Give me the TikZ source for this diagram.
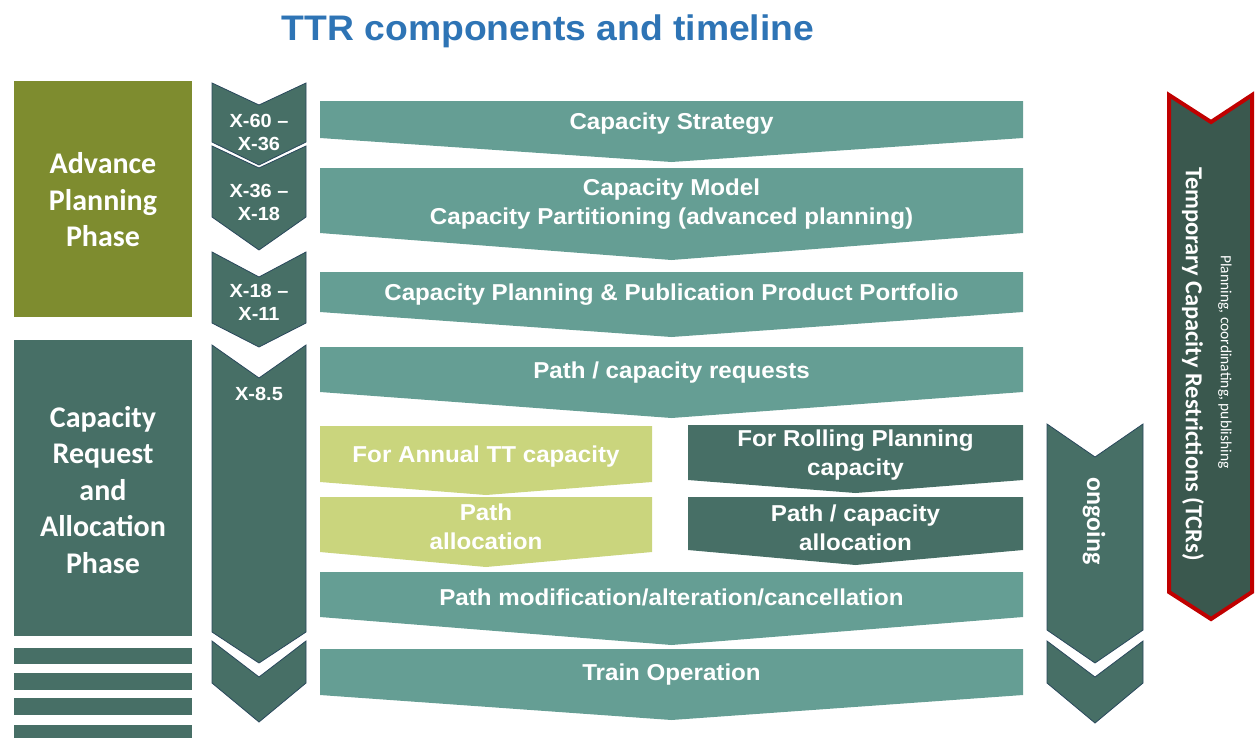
\documentclass[tikz,border=0pt]{standalone}
\usepackage{fontspec}
\setmainfont{Liberation Sans}
\newfontfamily\barfont[FakeStretch=1.05,Ligatures=TeX]{Liberation Sans}
\newfontfamily\calfont{Carlito}
\definecolor{titleblue}{RGB}{46,116,181}
\definecolor{phaseolive}{RGB}{126,140,47}
\definecolor{darkteal}{RGB}{71,111,102}
\definecolor{chevline}{RGB}{42,72,92}
\definecolor{barteal}{RGB}{101,158,148}
\definecolor{barlime}{RGB}{202,213,125}
\definecolor{tcrfill}{RGB}{58,88,78}
\definecolor{tcrred}{RGB}{192,0,0}
\begin{document}
\begin{tikzpicture}[x=1pt,y=-1pt,
    titletext/.style={text=titleblue,font=\barfont\bfseries\fontsize{35.5}{40}\selectfont},
    phasetext/.style={text=white,align=center,font=\calfont\bfseries\fontsize{30}{36.5}\selectfont},
    chevron/.style={fill=darkteal,draw=chevline,line width=0.8pt,line join=miter},
    chevtext/.style={text=white,align=center,font=\barfont\bfseries\fontsize{19}{23}\selectfont},
    bartext/.style={text=white,align=center,yshift=-2.5pt,font=\barfont\bfseries\fontsize{23}{29}\selectfont},
    sidetext/.style={text=white,rotate=-90,font=\calfont\bfseries\fontsize{26}{30}\selectfont}]
    \useasboundingbox (0,0) rectangle (1255,737);

    % Title
    \node[titletext] (title) at (548,31) {TTR components and timeline};

    % Phase boxes on the left
    \fill[phaseolive] (14,81) rectangle (192,317);
    \node[phasetext] (advance) at (103,200) {Advance\\Planning\\Phase};
    \fill[darkteal] (14,340) rectangle (192,636);
    \node[phasetext] (request) at (103,490) {Capacity\\Request\\and\\Allocation\\Phase};
    \foreach \yt/\yb in {648/664, 673/690, 698/715, 725/745}
        \fill[darkteal] (14,\yt) rectangle (192,\yb);

    % Timeline chevrons
    \filldraw[chevron] (212,83) -- (259,105) -- (306,83) -- (306,142) -- (259,165) -- (212,142) -- cycle;
    \filldraw[chevron] (212,146) -- (259,168) -- (306,146) -- (306,217) -- (259,250) -- (212,217) -- cycle;
    \filldraw[chevron] (212,252) -- (259,277) -- (306,252) -- (306,323) -- (259,347) -- (212,323) -- cycle;
    \filldraw[chevron] (212,345) -- (259,378) -- (306,345) -- (306,632) -- (259,663) -- (212,632) -- cycle;
    \filldraw[chevron] (212,641) -- (259,677) -- (306,641) -- (306,683) -- (259,722) -- (212,683) -- cycle;
    \node[chevtext] (xsixty) at (259,132) {X-60 –\\X-36};
    \node[chevtext] (xthirtysix) at (259,202) {X-36 –\\X-18};
    \node[chevtext] (xeighteen) at (259,302) {X-18 –\\X-11};
    \node[chevtext] (xeight) at (259,394) {X-8.5};

    % Process bars
    \fill[barteal] (320,101) -- (1023,101) -- (1023,138) -- (671.5,162) -- (320,138) -- cycle;
    \node[bartext] (strategy) at (671.5,121) {Capacity Strategy};
    \fill[barteal] (320,168) -- (1023,168) -- (1023,233) -- (671.5,260) -- (320,233) -- cycle;
    \node[bartext] (model) at (671.5,201.5) {Capacity Model\\Capacity Partitioning (advanced planning)};
    \fill[barteal] (320,272) -- (1023,272) -- (1023,312) -- (671.5,337) -- (320,312) -- cycle;
    \node[bartext] (portfolio) at (671.5,292) {Capacity Planning \& Publication Product Portfolio};
    \fill[barteal] (320,347) -- (1023,347) -- (1023,392) -- (671.5,418) -- (320,392) -- cycle;
    \node[bartext] (requests) at (671.5,370) {Path / capacity requests};

    % Annual timetable branch
    \fill[barlime] (320,426) -- (652,426) -- (652,482) -- (486,495) -- (320,482) -- cycle;
    \node[bartext] (annual) at (486,454) {For Annual TT capacity};
    \fill[barlime] (320,497) -- (652,497) -- (652,552) -- (486,567) -- (320,552) -- cycle;
    \node[bartext] (pathalloc) at (486,524.5) {Path\\allocation};

    % Rolling planning branch
    \fill[darkteal] (688,425) -- (1023,425) -- (1023,480) -- (855.5,493) -- (688,480) -- cycle;
    \node[bartext] (rolling) at (855.5,452.5) {For Rolling Planning\\capacity};
    \fill[darkteal] (688,497) -- (1023,497) -- (1023,550) -- (855.5,565) -- (688,550) -- cycle;
    \node[bartext] (capalloc) at (855.5,525) {Path / capacity\\allocation};

    \fill[barteal] (320,572) -- (1023,572) -- (1023,617) -- (671.5,645) -- (320,617) -- cycle;
    \node[bartext] (modification) at (671.5,595) {Path modification/alteration/cancellation};
    \fill[barteal] (320,649) -- (1023,649) -- (1023,695) -- (671.5,720) -- (320,695) -- cycle;
    \node[bartext] (operation) at (671.5,672) {Train Operation};

    % Ongoing chevrons
    \filldraw[chevron] (1047,424) -- (1095,457) -- (1143,424) -- (1143,630) -- (1095,663) -- (1047,630) -- cycle;
    \filldraw[chevron] (1047,641) -- (1095,677) -- (1143,641) -- (1143,683) -- (1095,723) -- (1047,683) -- cycle;
    \node[sidetext] (ongoing) at (1094,521) {ongoing};

    % TCR arrow
    \filldraw[fill=tcrfill,draw=tcrred,line width=4pt,line join=miter]
        (1169,95) -- (1211,122) -- (1252,95) -- (1252,592) -- (1211,619) -- (1169,592) -- cycle;
    \node[sidetext,font=\calfont\bfseries\fontsize{24.4}{28}\selectfont] (tcr) at (1193,364) {Temporary Capacity Restrictions (TCRs)};
    \node[sidetext,font=\calfont\fontsize{15.5}{18}\selectfont] (tcrsub) at (1225,362) {Planning, coordinating, publishing};
\end{tikzpicture}
\end{document}
